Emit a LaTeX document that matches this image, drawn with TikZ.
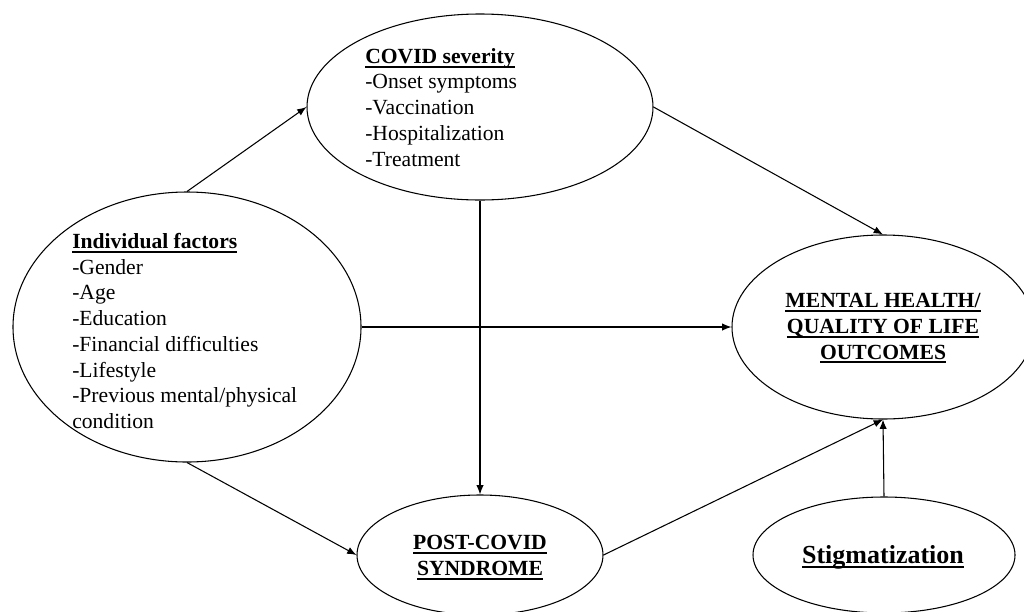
\documentclass[tikz,border=0pt]{standalone}
\usepackage{fontspec}
\setmainfont{Liberation Serif}
\usetikzlibrary{shapes.geometric,arrows.meta}

\newcommand\undr[1]{\setbox0\hbox{#1}\leavevmode\rlap{\vrule height -1.8pt depth 3.2pt width \wd0}\box0}

\tikzset{
  factor/.style={draw,ellipse,inner sep=0pt,line width=0.8pt},
  factortext/.style={inner sep=0pt,font=\fontsize{16.2}{19.3}\selectfont},
  link/.style={line width=0.8pt,-{Latex[length=7pt,width=5.5pt]}}
}

\begin{document}
\begin{tikzpicture}[x=0.75pt,y=0.75pt,yscale=-1,xscale=1]
\useasboundingbox (0,0) rectangle (1024,611);

%Shape: Ellipse [covid]
\node (covid) at (480,107) [factor,minimum width=259.5pt,minimum height=139.5pt] {};
%Shape: Ellipse [ind]
\node (ind) at (187,327) [factor,minimum width=261pt,minimum height=202.5pt] {};
%Shape: Ellipse [mental]
\node (mental) at (883,327) [factor,minimum width=226.5pt,minimum height=138pt] {};
%Shape: Ellipse [post]
\node (post) at (480,555) [factor,minimum width=184.5pt,minimum height=90pt] {};
%Shape: Ellipse [stig]
\node (stig) at (884,555) [factor,minimum width=196.5pt,minimum height=87pt] {};

% Text Node
\node (covidtext) at (365,48) [factortext,anchor=north west,align=left] {\undr{\textbf{COVID severity}}\\-Onset symptoms\\-Vaccination\\-Hospitalization\\-Treatment};
% Text Node
\node (indtext) at (72,233) [factortext,anchor=north west,align=left] {\undr{\textbf{Individual factors}}\\-Gender\\-Age\\-Education\\-Financial difficulties\\-Lifestyle\\-Previous mental/physical\\condition};
% Text Node
\node (mentaltext) at (883,293) [factortext,anchor=north,align=center,font=\fontsize{16.2}{19.3}\selectfont\bfseries] {\undr{MENTAL HEALTH/}\\\undr{QUALITY OF LIFE}\\\undr{OUTCOMES}};
% Text Node
\node (posttext) at (480,535) [factortext,anchor=north,align=center,font=\fontsize{16.2}{19.3}\selectfont\bfseries] {\undr{POST-COVID}\\\undr{SYNDROME}};
% Text Node
\node (stigtext) at (883,545) [factortext,anchor=north,font=\fontsize{19.5}{23}\selectfont\bfseries] {\undr{Stigmatization}};

%Straight Lines
\draw [link] (ind.north) -- (covid.west);
\draw [link] (covid.east) -- (mental.north);
\draw [link] (ind.east) -- (mental.west);
\draw [link] (covid.south) -- (post.north);
\draw [link] (ind.south) -- (post.west);
\draw [link] (post.east) -- (mental.south);
\draw [link] (stig.north) -- (mental.south);

\end{tikzpicture}
\end{document}
